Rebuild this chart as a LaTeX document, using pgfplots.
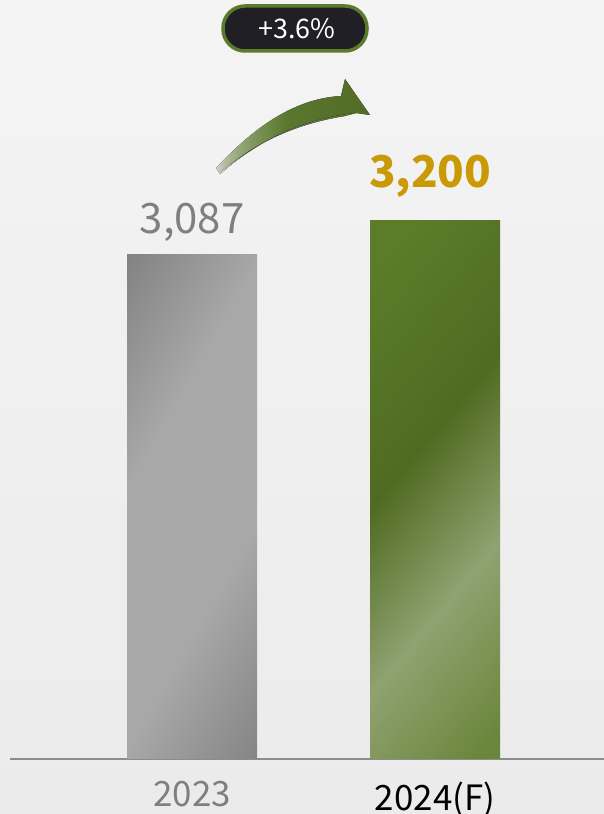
\documentclass[border=0pt]{standalone}
\usepackage{pgfplots}
\pgfplotsset{compat=1.18}
\usepackage{fontspec}
\setmainfont{Noto Sans CJK KR}
\definecolor{bgA}{HTML}{F4F4F4}
\definecolor{bgB}{HTML}{EBEBEB}
\definecolor{gold}{HTML}{C99A06}
\definecolor{gA}{HTML}{5C7C2A}
\definecolor{gB}{HTML}{8FA271}
\definecolor{gC}{HTML}{5F7E2B}
\definecolor{gD}{HTML}{4F6B21}
\definecolor{arrowg}{HTML}{5A772C}
\definecolor{pill}{HTML}{1F1F25}
\definecolor{pillb}{HTML}{5B7A2C}
\definecolor{txtgray}{HTML}{7F7F7F}
\pgfdeclareverticalshading{greenbar}{100bp}{color(0bp)=(gC); color(18bp)=(gC!75!gB); color(37bp)=(gB); color(56bp)=(gD); color(80bp)=(gA); color(100bp)=(gA)}
\pgfdeclareverticalshading{graybar}{100bp}{color(0bp)=(black!50); color(14bp)=(black!49); color(38bp)=(black!34); color(62bp)=(black!34); color(86bp)=(black!50); color(100bp)=(black!50)}
\pgfdeclarehorizontalshading{arrowsh}{100bp}{color(0bp)=(bgA!85!black); color(25bp)=(bgA!85!black); color(28bp)=(bgA!55!arrowg); color(32bp)=(bgA!40!arrowg); color(38bp)=(bgA!22!arrowg); color(48bp)=(arrowg); color(75bp)=(arrowg!90!black); color(100bp)=(arrowg!90!black)}
\pgfdeclarehorizontalshading{shadowsh}{100bp}{color(0bp)=(bgA); color(25bp)=(bgA); color(29bp)=(black!30); color(36bp)=(black!62); color(54bp)=(black!58); color(69bp)=(arrowg); color(100bp)=(arrowg)}
\begin{document}
\begin{tikzpicture}
\path[use as bounding box, top color=bgA, bottom color=bgB] (0,0) rectangle (604bp,814bp);
\begin{axis}[
  at={(10bp,55bp)}, anchor=south west,
  scale only axis, width=594bp, height=759bp,
  xmin=-0.749, xmax=1.695, ymin=1410, ymax=3932,
  axis x line=bottom, axis y line=none,
  x axis line style={-, draw=black!45, line width=2.2bp},
  xtick={0,1}, xticklabels={{\textcolor{txtgray}{2023}},{\textcolor{black}{2024(F)}}},
  xticklabel style={font=\fontsize{35}{38}\selectfont, yshift=-19bp},
  major tick length=0pt,
  clip=false,
  ybar, bar width=130bp,
]
\addplot[ybar, bar shift=0pt, draw=none, shading=graybar, shading angle=60,
  nodes near coords, nodes near coords align={above},
  every node near coord/.append style={font=\fontsize{42}{46}\selectfont, text=txtgray, yshift=9bp},
  point meta=explicit symbolic]
  coordinates {(0,3087) [3,087]};
\addplot[ybar, bar shift=0pt, draw=none, shading=greenbar, shading angle=50,
  nodes near coords, nodes near coords align={above},
  every node near coord/.append style={font=\bfseries\fontsize{44}{48}\selectfont, text=gold, yshift=19bp, xshift=-5bp},
  point meta=explicit symbolic]
  coordinates {(1,3200) [3,200]};
\end{axis}
\begin{scope}[x=1bp, y=1bp]
  \fill[shading=arrowsh, shading angle=0]
    (216,646) .. controls (250,682) and (290,715) .. (341,718)
    -- (345,735) -- (370,699) -- (356,701)
    .. controls (300,695) and (255,671) .. (220,640) -- cycle;
  \fill[shading=shadowsh, shading angle=0]
    (222,643) .. controls (255,671) and (295,690) .. (345,698)
    -- (356,701)
    .. controls (300,695) and (255,671) .. (220,640) -- cycle;
  \draw[pillb, line width=3.5bp, fill=pill, rounded corners=22bp] (223,808) rectangle (367,763);
  \node[text=white, font=\fontsize{27}{30}\selectfont] at (297,785) {+3.6\%};
\end{scope}
\end{tikzpicture}
\end{document}
